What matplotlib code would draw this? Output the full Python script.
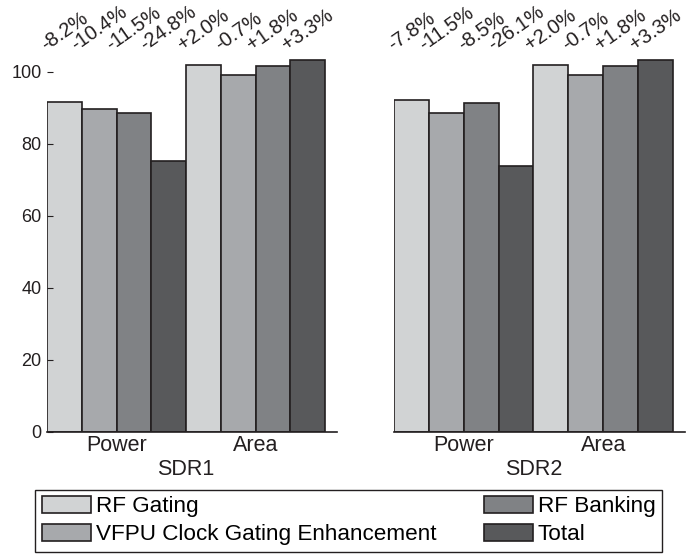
import matplotlib
matplotlib.use("Agg")
import matplotlib.pyplot as plt
import numpy as np

plt.rcParams['font.family'] = ['Liberation Sans', 'DejaVu Sans']

series = ['RF Gating', 'VFPU Clock Gating Enhancement', 'RF Banking', 'Total']
colors = ['#d1d3d4', '#a7a9ac', '#808285', '#58595b']
groups = ['Power', 'Area']
panels = ['SDR1', 'SDR2']

# normalized values, [group][series]
sdr1 = [[91.8, 89.6, 88.5, 75.2], [102.0, 99.3, 101.8, 103.3]]
sdr2 = [[92.2, 88.5, 91.5, 73.9], [102.0, 99.3, 101.8, 103.3]]
sdr1_lbl = [['-8.2%', '-10.4%', '-11.5%', '-24.8%'], ['+2.0%', '-0.7%', '+1.8%', '+3.3%']]
sdr2_lbl = [['-7.8%', '-11.5%', '-8.5%', '-26.1%'], ['+2.0%', '-0.7%', '+1.8%', '+3.3%']]

W, H = 699, 557
fig = plt.figure(figsize=(W / 100, H / 100), dpi=100)
ax1 = fig.add_axes([47 / W, 1 - 432 / H, 290 / W, 378 / H])
ax2 = fig.add_axes([394 / W, 1 - 432 / H, 291 / W, 378 / H])

for ax, vals, lbls, name in [(ax1, sdr1, sdr1_lbl, 'SDR1'), (ax2, sdr2, sdr2_lbl, 'SDR2')]:
    for g in range(len(groups)):
        for s in range(len(series)):
            x = g * 4 + s
            ax.bar(x, vals[g][s], width=1, align='edge', color=colors[s],
                   edgecolor='#231f20', linewidth=1.2,
                   label=series[s] if g == 0 else None)
            ax.text(x + 0.5, 105.0, lbls[g][s], rotation=35, ha='center', va='bottom',
                    fontsize=14.5, color='#231f20', clip_on=False)
    ax.set_xlim(0, 8.345)
    ax.set_ylim(0, 105)
    for sp in ['top', 'right', 'left']:
        ax.spines[sp].set_visible(False)
    ax.spines['bottom'].set_linewidth(1.2)
    ax.spines['bottom'].set_color('#231f20')
    ax.set_xticks([2, 6])
    ax.set_xticklabels(groups, fontsize=15.5, color='#231f20')
    ax.tick_params(axis='x', length=0, pad=2)
    ax.text(4, -7.6, name, ha='center', va='top', fontsize=15.5, color='#231f20')

ax1.set_yticks([0, 20, 40, 60, 80, 100])
ax1.tick_params(axis='y', labelsize=13, length=4.5, width=0.8, direction='in',
                pad=4, color='#231f20', labelcolor='#231f20')
ax2.set_yticks([])

h, l = ax1.get_legend_handles_labels()
fig.legend(h, l, ncol=2, mode='expand',
           bbox_to_anchor=(35 / W, 1 - 552 / H, 627 / W, 66 / H), loc='lower left',
           fontsize=16.2, frameon=True, fancybox=False, edgecolor='#231f20',
           framealpha=1, borderaxespad=0, handlelength=2.2, handleheight=0.75,
           handletextpad=0.2, labelspacing=0.3, borderpad=0.3)

fig.savefig('out.png', dpi=100)
